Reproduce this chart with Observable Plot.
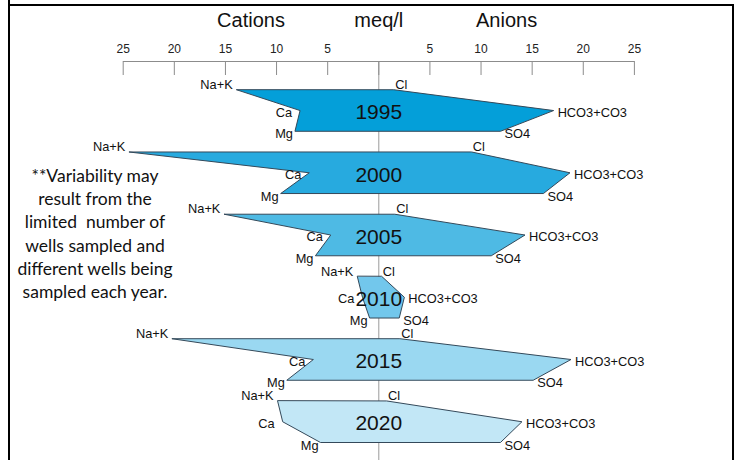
<!DOCTYPE html>
<html><head><meta charset="utf-8">
<script src="https://cdn.jsdelivr.net/npm/d3@7"></script>
<script src="https://cdn.jsdelivr.net/npm/@observablehq/plot@0.6"></script>
<style>
body{margin:0;background:#fff;}
#wrap{position:relative;width:736px;height:460px;overflow:hidden;}
#frame{position:absolute;left:8px;top:4px;width:726px;height:470px;border-top:2px solid #000;border-left:2px solid #000;border-right:2px solid #000;box-sizing:border-box;pointer-events:none}
#stub{position:absolute;left:8px;top:0;width:2px;height:6px;background:#000}
#note{position:absolute;left:0px;top:164px;width:190px;text-align:center;font:17.5px/23.2px Lato, sans-serif;color:#111;white-space:nowrap}
#chart{position:absolute;left:0;top:0}
</style></head>
<body>
<div id="wrap">
<div id="chart"></div>
<div id="frame"></div>
<div id="stub"></div>
<div id="note">**Variability may<br>result from the<br>limited&nbsp; number of<br>wells sampled and<br>different wells being<br>sampled each year.</div>
</div>
<script>
// Data (meq/l)
const years = [1995, 2000, 2005, 2010, 2015, 2020];
const naK  = [13.9, 24.4, 15.1, 2.1, 20.2, 9.9];
const ca   = [7.7, 6.8, 4.7, 1.6, 6.4, 9.4];
const mg   = [8.2, 9.6, 6.2, 0.9, 9.0, 5.7];
const cl   = [1.5, 9.1, 1.6, 0.3, 2.1, 0.8];
const hco3 = [17.1, 18.7, 14.3, 2.5, 18.8, 14.0];
const so4  = [11.9, 16.1, 11.0, 2.0, 15.1, 11.9];
const axisTicks = [-25, -20, -15, -10, -5, 0, 5, 10, 15, 20, 25];
const titleWords = ["Cations", "meq/l", "Anions"];
const titleX = [-12.5, 0, 12.5];
const fills = ["#049fd9", "#27aadf", "#4ebae4", "#72c7ec", "#9ad8f1", "#c2e7f6"];

// Build polygon vertices (cations negative to the left, anions positive to the right)
const pts = [];
years.forEach((yr, i) => {
  const r = 3 * i;
  pts.push({year: yr, ion: "Na+K", x: -naK[i], row: r});
  pts.push({year: yr, ion: "Ca", x: -ca[i], row: r + 1});
  pts.push({year: yr, ion: "Mg", x: -mg[i], row: r + 2});
  pts.push({year: yr, ion: "SO4", x: so4[i], row: r + 2});
  pts.push({year: yr, ion: "HCO3+CO3", x: hco3[i], row: r + 1});
  pts.push({year: yr, ion: "Cl", x: cl[i], row: r});
});

const labelStyle = {
  "Na+K":     {textAnchor: "end",   dx: -4, dy: -5},
  "Cl":       {textAnchor: "start", dx: 1,  dy: -5},
  "Ca":       {textAnchor: "end",   dx: -8, dy: 2},
  "HCO3+CO3": {textAnchor: "start", dx: 4,  dy: 2},
  "Mg":       {textAnchor: "end",   dx: -2, dy: 3},
  "SO4":      {textAnchor: "start", dx: 4,  dy: 3}
};

const ionLabels = Object.entries(labelStyle).map(([ion, s]) =>
  Plot.text(pts.filter(d => d.ion === ion), {
    x: "x", y: "row", text: "ion", fontSize: 12.8, fill: "#111", ...s
  })
);

const chart = Plot.plot({
  width: 736, height: 460,
  marginTop: 61, marginLeft: 122.7, marginRight: 102.1, marginBottom: 0,
  style: {fontFamily: "'Liberation Sans', Arial, sans-serif", background: "transparent", overflow: "visible"},
  x: {domain: [-25, 25]},
  y: {domain: [0, 17], range: [89.3, 442], axis: null},
  color: {domain: years, range: fills},
  marks: [
    Plot.ruleX([0], {stroke: "#9a9a9a", strokeWidth: 1}),
    Plot.frame({anchor: "top", stroke: "#8c8c8c"}),
    Plot.axisX({anchor: "top", ticks: axisTicks, tickSize: 13, dy: 13, tickFormat: () => "", stroke: "#8c8c8c", label: null}),
    Plot.axisX({anchor: "top", ticks: axisTicks, tickSize: 0, tickPadding: 9, tickFormat: d => d === 0 ? "" : String(Math.abs(d)), fontSize: 12, fill: "#222", label: null}),
    Plot.line(pts, {x: "x", y: "row", z: "year", fill: "year", stroke: "#34495a", strokeWidth: 1, curve: "linear-closed"}),
    ...ionLabels,
    Plot.text(years, {x: () => 0, y: (d, i) => 3 * i + 1, text: d => String(d), fontSize: 21, fill: "#111", dy: 2}),
    Plot.text(titleWords, {x: (d, i) => titleX[i], text: d => d, frameAnchor: "top", dy: -49, fontSize: 20, fill: "#111"})
  ]
});
document.getElementById("chart").appendChild(chart);
</script>
</body></html>
